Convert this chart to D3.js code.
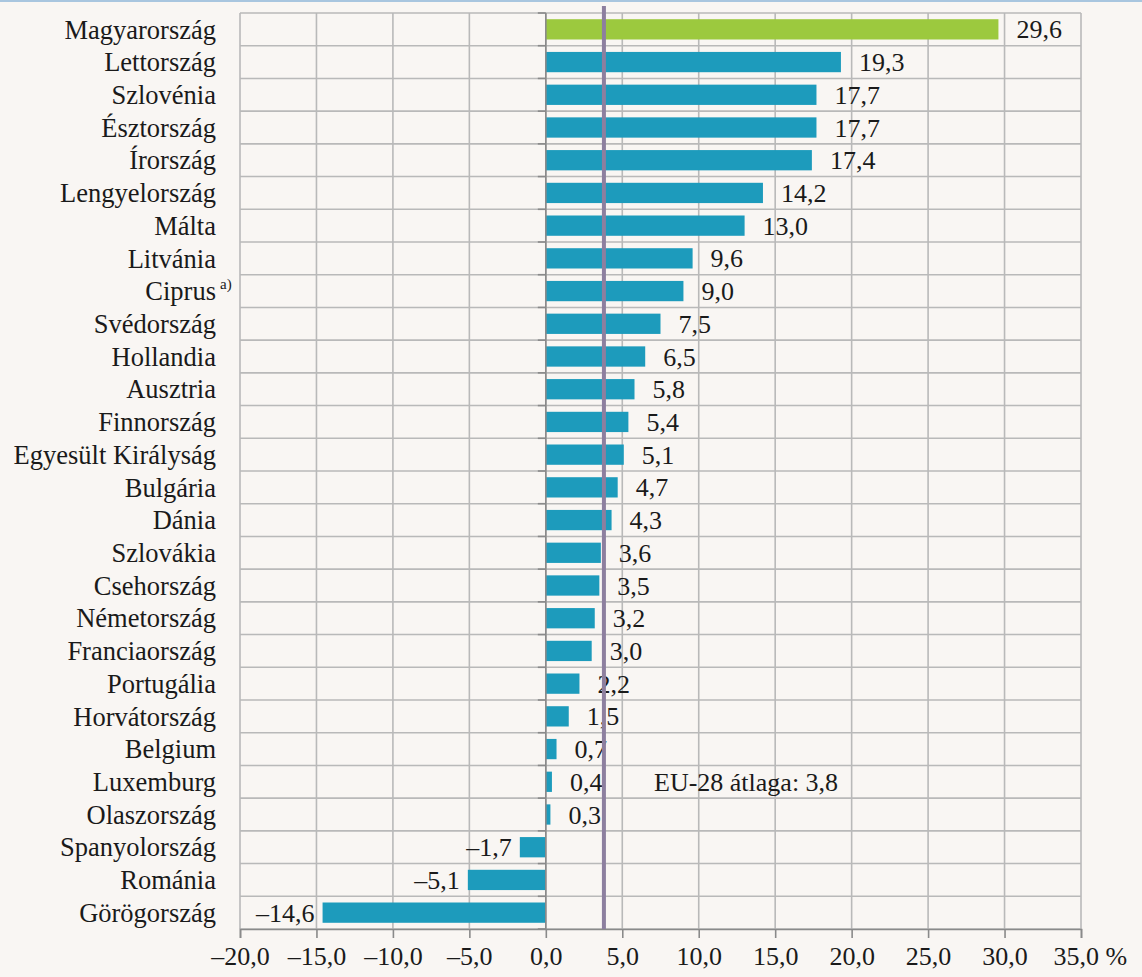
<!DOCTYPE html>
<html>
<head>
<meta charset="utf-8">
<style>
  body { margin: 0; background: #f9f6f3; }
  svg { display: block; }
</style>
</head>
<body>
<svg id="chart" width="1142" height="977"></svg>
<script src="https://cdn.jsdelivr.net/npm/d3@7"></script>
<script>
var countries = ["Magyarország", "Lettország", "Szlovénia", "Észtország", "Írország",
  "Lengyelország", "Málta", "Litvánia", "Ciprus", "Svédország", "Hollandia", "Ausztria",
  "Finnország", "Egyesült Királyság", "Bulgária", "Dánia", "Szlovákia", "Csehország",
  "Németország", "Franciaország", "Portugália", "Horvátország", "Belgium", "Luxemburg",
  "Olaszország", "Spanyolország", "Románia", "Görögország"];
var values = [29.6, 19.3, 17.7, 17.7, 17.4, 14.2, 13.0, 9.6, 9.0, 7.5, 6.5, 5.8,
  5.4, 5.1, 4.7, 4.3, 3.6, 3.5, 3.2, 3.0, 2.2, 1.5, 0.7, 0.4, 0.3, -1.7, -5.1, -14.6];
var euAverage = 3.8;
var xTicks = [-20, -15, -10, -5, 0, 5, 10, 15, 20, 25, 30, 35];

var svg = d3.select("#chart");
var font = "Liberation Serif, DejaVu Serif, serif";
var margin = {top: 13, left: 240, right: 61, bottom: 48};
var width = 1142, height = 977;

var locale = d3.formatLocale({decimal: ",", thousands: " ", grouping: [3], currency: ["", ""], minus: "\u2013"});
var fmt = locale.format(".1f");

var x = d3.scaleLinear().domain([-20, 35]).range([margin.left, width - margin.right]);
var y = d3.scaleBand().domain(countries).range([margin.top, height - margin.bottom]).paddingInner(0.38).paddingOuter(0.19);
var step = y.step();

// top rule
svg.append("rect").attr("x", 0).attr("y", 0).attr("width", width).attr("height", 2).attr("fill", "#a9c6df");

// grid
var grid = svg.append("g").attr("stroke", "#b9b9b9").attr("stroke-width", 1.6);
grid.selectAll(".v").data(xTicks).enter().append("line")
    .attr("x1", function(d) { return x(d); }).attr("x2", function(d) { return x(d); })
    .attr("y1", margin.top).attr("y2", height - margin.bottom);
var bounds = d3.range(countries.length + 1).map(function(i) { return margin.top + i * step; });
grid.selectAll(".h").data(bounds).enter().append("line")
    .attr("x1", x(-20)).attr("x2", x(35))
    .attr("y1", function(d) { return d; }).attr("y2", function(d) { return d; });

// bars
svg.selectAll(".bar").data(values).enter().append("rect")
    .attr("x", function(d) { return x(Math.min(0, d)); })
    .attr("y", function(d, i) { return y(countries[i]); })
    .attr("width", function(d) { return Math.abs(x(d) - x(0)); })
    .attr("height", y.bandwidth())
    .attr("fill", function(d, i) { return i === 0 ? "#9cc93e" : "#1d9bbc"; });

// zero axis with ticks
var axisG = svg.append("g").attr("stroke", "#8a8a8a").attr("stroke-width", 1.6);
axisG.append("line").attr("x1", x(0)).attr("x2", x(0)).attr("y1", margin.top).attr("y2", height - margin.bottom);
axisG.selectAll(".t").data(bounds).enter().append("line")
    .attr("x1", x(0) - 8).attr("x2", x(0))
    .attr("y1", function(d) { return d; }).attr("y2", function(d) { return d; });

// bottom axis
var xAxis = d3.axisBottom(x).tickValues(xTicks).tickSize(9).tickPadding(9)
    .tickFormat(function(d) { return fmt(d) + (d === 35 ? " %" : ""); });
var gx = svg.append("g").attr("transform", "translate(0," + (height - margin.bottom) + ")").call(xAxis);
gx.select(".domain").attr("stroke", "#8a8a8a").attr("stroke-width", 1.6);
gx.selectAll(".tick line").attr("stroke", "#8a8a8a").attr("stroke-width", 1.6);
gx.selectAll(".tick text").attr("font-family", font).attr("font-size", 26).attr("fill", "#1a1a1a");
gx.selectAll(".tick").filter(function(d) { return d === 35; }).select("text")
    .attr("text-anchor", "start").attr("dx", -28);

// category labels
svg.selectAll(".cat").data(countries).enter().append("text")
    .attr("x", 216)
    .attr("y", function(d) { return y(d) + y.bandwidth() / 2; })
    .attr("dy", "0.35em")
    .attr("text-anchor", "end")
    .attr("font-family", font).attr("font-size", 26.5).attr("fill", "#1a1a1a")
    .text(function(d) { return d; });
svg.append("text")
    .attr("x", 220).attr("y", y("Ciprus") + 8)
    .attr("font-family", font).attr("font-size", 15).attr("fill", "#1a1a1a")
    .text("a)");

// value labels
svg.selectAll(".val").data(values).enter().append("text")
    .attr("x", function(d) { return d >= 0 ? x(d) + 18 : x(d) - 8; })
    .attr("y", function(d, i) { return y(countries[i]) + y.bandwidth() / 2; })
    .attr("dy", "0.35em")
    .attr("text-anchor", function(d) { return d >= 0 ? "start" : "end"; })
    .attr("font-family", font).attr("font-size", 26).attr("fill", "#1a1a1a")
    .text(function(d) { return fmt(d); });

// EU average line
svg.append("line")
    .attr("x1", x(euAverage)).attr("x2", x(euAverage))
    .attr("y1", 6).attr("y2", height - margin.bottom)
    .attr("stroke", "#8d7f9f").attr("stroke-width", 4);
svg.append("text")
    .attr("x", 654).attr("y", y("Luxemburg") + y.bandwidth() / 2)
    .attr("dy", "0.35em")
    .attr("font-family", font).attr("font-size", 26).attr("fill", "#1a1a1a")
    .text("EU-28 átlaga: " + fmt(euAverage));
</script>
</body>
</html>
